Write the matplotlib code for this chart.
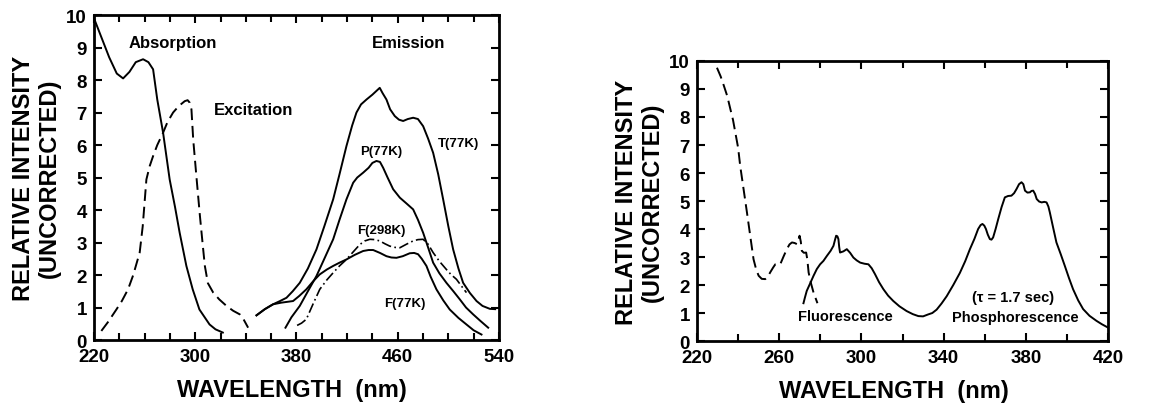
import matplotlib
matplotlib.use("Agg")
import matplotlib.pyplot as plt

plt.rcParams['font.family'] = ['Liberation Sans', 'DejaVu Sans']

# ---------------- Left panel data ----------------
abs_x = [220, 226, 232, 238, 243, 248, 253, 258.8, 263, 266.7, 270, 274.6, 279.8, 284, 287.7, 293, 298, 303.3, 311.3, 316, 321.8]
abs_y = [9.9, 9.3, 8.7, 8.2, 8.05, 8.25, 8.55, 8.64, 8.55, 8.33, 7.4, 6.38, 4.94, 4.1, 3.30, 2.28, 1.56, 0.94, 0.48, 0.33, 0.23]

exc_x = [225.8, 231, 237.7, 242, 246.9, 251, 256.1, 258.5, 261.4, 264, 266.7, 270, 274.6, 278, 282.5, 287, 291.7, 294, 295.7, 297, 298.4, 301, 303.7, 306, 307.6, 310, 314.2, 319, 324.7, 330, 335.2, 338, 341.8]
exc_y = [0.28, 0.55, 0.94, 1.2, 1.56, 2.0, 2.69, 3.5, 4.94, 5.35, 5.66, 6.0, 6.38, 6.7, 7.0, 7.2, 7.35, 7.38, 7.3, 7.1, 6.17, 5.0, 3.82, 2.9, 2.28, 1.75, 1.46, 1.25, 1.05, 0.9, 0.79, 0.65, 0.38]

t77_x = [348.4, 355, 361.5, 367, 372.1, 377, 382.6, 389, 395.8, 402, 409, 414, 419.5, 424, 427.4, 431, 435.3, 440, 445.8, 448, 451.1, 454, 457.7, 461, 464.3, 468, 472.2, 476, 480.1, 484, 488, 492, 495.9, 500, 503.8, 508, 511.7, 517, 522.3, 527, 532.8, 537]
t77_y = [0.76, 0.95, 1.10, 1.2, 1.30, 1.5, 1.76, 2.2, 2.79, 3.5, 4.33, 5.1, 5.97, 6.6, 7.0, 7.25, 7.4, 7.55, 7.76, 7.6, 7.4, 7.1, 6.89, 6.78, 6.74, 6.8, 6.84, 6.8, 6.58, 6.2, 5.76, 5.1, 4.33, 3.5, 2.79, 2.2, 1.76, 1.45, 1.20, 1.05, 0.96, 0.95]

p77_x = [371.3, 376, 382.6, 389, 395.8, 402, 409, 414, 419.5, 424.8, 428, 432.7, 437, 440, 443.2, 446, 448.5, 452, 456.4, 461.7, 467, 472.2, 476, 480.1, 484, 488, 493, 498.5, 504, 509.1, 514, 519.6, 525, 531.5]
p77_y = [0.38, 0.7, 1.05, 1.5, 1.97, 2.5, 3.10, 3.7, 4.33, 4.84, 5.0, 5.15, 5.3, 5.45, 5.51, 5.48, 5.30, 5.0, 4.64, 4.38, 4.2, 4.02, 3.7, 3.30, 2.85, 2.38, 2.05, 1.76, 1.5, 1.25, 1.0, 0.79, 0.6, 0.38]

f77_x = [348.4, 355, 361.5, 368, 377.3, 382, 387.8, 393, 398.4, 404, 409, 414, 419.5, 426, 432.7, 437, 440.6, 446, 451.1, 455, 459, 464, 469.5, 473, 476.1, 479, 482.7, 486, 490.6, 496, 501.1, 508, 514.3, 520, 526.2]
f77_y = [0.76, 0.95, 1.10, 1.15, 1.20, 1.35, 1.56, 1.8, 2.02, 2.17, 2.28, 2.38, 2.48, 2.62, 2.74, 2.77, 2.77, 2.68, 2.58, 2.54, 2.53, 2.58, 2.67, 2.68, 2.64, 2.5, 2.28, 1.95, 1.56, 1.22, 0.94, 0.68, 0.48, 0.3, 0.17]

f298_x = [380.5, 384, 387.8, 393, 398.4, 404, 409, 414, 419.5, 425, 430.1, 434, 438, 442, 445.8, 450, 453.7, 458, 461.7, 467, 472.2, 476, 480.1, 484, 488, 493, 498.5, 502, 506.4, 510, 514.3]
f298_y = [0.45, 0.52, 0.64, 1.1, 1.56, 1.85, 2.07, 2.28, 2.48, 2.72, 2.94, 3.05, 3.10, 3.09, 3.05, 2.96, 2.89, 2.85, 2.84, 2.95, 3.05, 3.09, 3.10, 2.95, 2.69, 2.42, 2.17, 2.02, 1.87, 1.68, 1.46]

# ---------------- Right panel data ----------------
rexc_x = [229.7, 231.5, 233, 234.7, 236.2, 237.5, 238.6, 240, 241, 242.7, 244.3, 246, 247.5, 248.8, 250, 251.5, 253.2, 254.5, 255.6, 257, 258.1, 259.3, 260.5, 262, 263.7, 265, 266.2, 267.5, 268.6, 269.3, 269.9, 270.5, 271, 272, 273.1, 273.7, 274.3, 275.5, 276.7, 278.6]
rexc_y = [9.76, 9.45, 9.13, 8.75, 8.29, 7.9, 7.46, 6.9, 6.26, 5.4, 4.59, 3.7, 2.92, 2.55, 2.33, 2.22, 2.21, 2.3, 2.45, 2.62, 2.74, 2.76, 2.74, 3.0, 3.28, 3.45, 3.52, 3.5, 3.46, 3.6, 3.76, 3.55, 3.22, 3.15, 3.16, 2.9, 2.45, 2.05, 1.73, 1.35]

fl_x = [271.8, 272.5, 273.4, 275, 276.7, 278.3, 279.9, 281.5, 283.2, 285, 286.4, 287.1, 287.7, 288.3, 288.8, 289.2, 289.6, 291.2, 292.9, 294.5, 296.1, 297.7, 299.4, 301.5, 303.4, 305, 306.6, 308.6, 310.7, 313, 315.5, 318.5, 322, 325, 327.7, 330, 332.5, 334.5, 336.6, 339, 341.5, 344.7, 347.9, 350.5, 352.8, 355, 356.8, 358, 358.9, 359.8, 360.6, 361.5, 362.5, 363.3, 364.1, 365.3, 366.6, 368.2, 369.8, 371.4, 373, 374.3, 375.5, 376.7, 377.9, 378.8, 379.6, 380.8, 382, 382.8, 383.6, 384.5, 385.3, 386.5, 387.7, 389, 390.1, 391, 391.7, 393.3, 394.9, 397, 399, 401, 403, 405.5, 407.9, 411, 414.4, 417, 420]
fl_y = [1.35, 1.55, 1.79, 2.05, 2.33, 2.57, 2.74, 2.86, 3.04, 3.22, 3.40, 3.6, 3.76, 3.74, 3.64, 3.35, 3.16, 3.2, 3.28, 3.15, 2.98, 2.88, 2.80, 2.76, 2.74, 2.6, 2.39, 2.1, 1.85, 1.62, 1.43, 1.24, 1.07, 0.96, 0.89, 0.88, 0.95, 1.0, 1.12, 1.34, 1.60, 2.0, 2.43, 2.85, 3.28, 3.65, 4.0, 4.14, 4.18, 4.12, 4.0, 3.8, 3.64, 3.62, 3.70, 4.0, 4.36, 4.78, 5.13, 5.18, 5.19, 5.28, 5.43, 5.6, 5.67, 5.6, 5.37, 5.3, 5.31, 5.36, 5.37, 5.25, 5.07, 4.98, 4.95, 4.97, 4.95, 4.8, 4.59, 4.05, 3.52, 3.1, 2.68, 2.25, 1.85, 1.45, 1.14, 0.9, 0.72, 0.6, 0.48]

left_xticks = [220, 300, 380, 460, 540]
right_xticks = [220, 260, 300, 340, 380, 420]
yticks = list(range(0, 11))

fig = plt.figure(figsize=(11.59, 4.06), dpi=100)
axL = fig.add_axes([0.0811, 0.160, 0.3494, 0.8005])
axR = fig.add_axes([0.6014, 0.1576, 0.3546, 0.6897])

lw = 1.4
axL.plot(abs_x, abs_y, color='black', lw=lw, solid_joinstyle='round')
axL.plot(exc_x, exc_y, color='black', lw=lw, dashes=(6, 3))
axL.plot(t77_x, t77_y, color='black', lw=lw)
axL.plot(p77_x, p77_y, color='black', lw=lw)
axL.plot(f77_x, f77_y, color='black', lw=lw)
axL.plot(f298_x, f298_y, color='black', lw=1.2, dashes=(6, 2, 1, 2))

axR.plot(rexc_x, rexc_y, color='black', lw=lw, dashes=(6, 3))
axR.plot(fl_x, fl_y, color='black', lw=lw)

tfont = dict(fontsize=12, fontweight='bold')
axL.text(282.5, 9.15, 'Absorption', ha='center', va='center', **tfont)
axL.text(345.7, 7.1, 'Excitation', ha='center', va='center', **tfont)
axL.text(468.3, 9.15, 'Emission', ha='center', va='center', **tfont)
sfont = dict(fontsize=9.5, fontweight='bold')
axL.text(507.9, 6.07, 'T(77K)', ha='center', va='center', **sfont)
axL.text(447.2, 5.82, 'P(77K)', ha='center', va='center', **sfont)
axL.text(447.2, 3.40, 'F(298K)', ha='center', va='center', **sfont)
axL.text(465.7, 1.13, 'F(77K)', ha='center', va='center', **sfont)

rfont = dict(fontsize=10.5, fontweight='bold')
axR.text(292.1, 0.89, 'Fluorescence', ha='center', va='center', **rfont)
axR.text(373.8, 1.58, '(τ = 1.7 sec)', ha='center', va='center', **rfont)
axR.text(375.1, 0.84, 'Phosphorescence', ha='center', va='center', **rfont)

for ax, xt, xlim in ((axL, left_xticks, (220, 540)), (axR, right_xticks, (220, 420))):
    ax.set_xlim(*xlim)
    ax.set_ylim(0, 10)
    ax.set_xticks(xt)
    ax.set_xticks(list(range(xlim[0], xlim[1] + 1, 20)), minor=True)
    ax.set_yticks(yticks)
    ax.tick_params(which='both', direction='in', top=True, right=True, width=1.5, labelsize=13.5)
    ax.tick_params(which='major', length=6)
    ax.tick_params(which='minor', length=5)
    ax.tick_params(axis='x', pad=6)
    ax.tick_params(axis='y', pad=5)
    for lab in ax.get_xticklabels() + ax.get_yticklabels():
        lab.set_fontweight('bold')
    for s in ax.spines.values():
        s.set_linewidth(2)
    ax.set_ylabel('RELATIVE INTENSITY\n(UNCORRECTED)', fontsize=17, fontweight='bold', labelpad=4, linespacing=1.15)
    ax.set_xlabel('WAVELENGTH  (nm)', fontsize=17, fontweight='bold')

axL.xaxis.set_label_coords(0.489, -0.118)
axR.xaxis.set_label_coords(0.479, -0.136)

fig.savefig('out.png', dpi=100)
